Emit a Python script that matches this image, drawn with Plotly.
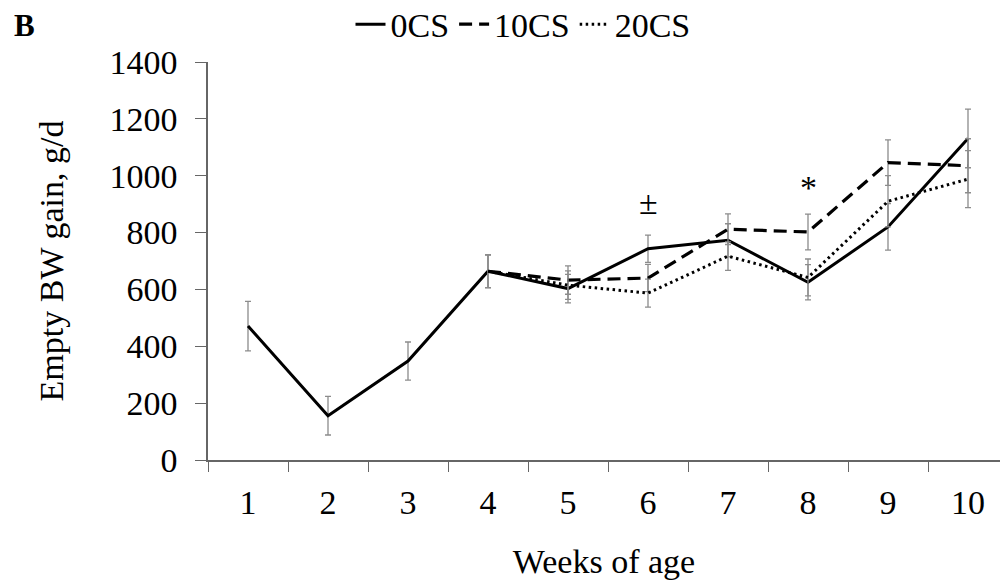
import plotly.graph_objects as go

weeks = [1, 2, 3, 4, 5, 6, 7, 8, 9, 10]
tick_labels = ["1", "2", "3", "4", "5", "6", "7", "8", "9", "10"]

cs0 = [471, 156, 348, 664, 603, 743, 773, 625, 820, 1131]
cs0_err = [87, 68, 67, 58, 50, 48, 58, 62, 82, 103]

cs10 = [None, None, None, 664, 633, 640, 812, 802, 1046, 1035]
cs10_err = [0, 0, 0, 58, 50, 48, 54, 63, 80, 95]

cs20 = [None, None, None, 664, 615, 587, 717, 642, 910, 988]
cs20_err = [0, 0, 0, 58, 50, 49, 50, 65, 90, 100]

sig_weeks = [6, 8]
sig_values = [905, 958]
sig_marks = ["±", "*"]

FONT = "Liberation Serif"
ERR_COLOR = "#8c8c8c"
FS = 34

fig = go.Figure()

series = [
    ("0CS", cs0, cs0_err, "solid", 3),
    ("10CS", cs10, cs10_err, "13px,7px", 3.2),
    ("20CS", cs20, cs20_err, "2.5px,3.5px", 3),
]
for name, vals, errs, dash, w in series:
    fig.add_trace(go.Scatter(
        x=weeks, y=vals, name=name, mode="lines",
        line=dict(color="black", width=w, dash=dash),
        error_y=dict(type="data", array=errs, visible=True,
                     color=ERR_COLOR, thickness=1.3, width=3),
        connectgaps=False,
    ))

for wk, v, m in zip(sig_weeks, sig_values, sig_marks):
    fig.add_annotation(x=wk, y=v, text=m, showarrow=False,
                       font=dict(family=FONT, size=FS, color="black"),
                       xanchor="center", yanchor="middle")

fig.add_annotation(x=-0.2475, y=1.14, xref="paper", yref="paper",
                   text="<b>B</b>", showarrow=False,
                   font=dict(family=FONT, size=31, color="black"),
                   xanchor="left", yanchor="top")

fig.update_layout(
    width=1000, height=584,
    margin=dict(l=208, r=0, t=62, b=124, autoexpand=False),
    paper_bgcolor="white", plot_bgcolor="white",
    font=dict(family=FONT, size=FS, color="black"),
    showlegend=True,
    legend=dict(orientation="h", x=0.523, xref="container", xanchor="center",
                y=0.958, yref="container", yanchor="middle",
                font=dict(family=FONT, size=FS, color="black"),
                itemwidth=30, tracegroupgap=0,
                bgcolor="rgba(0,0,0,0)"),
    xaxis=dict(
        range=[0.5, 10.4],
        tickmode="array", tickvals=weeks, ticktext=tick_labels,
        ticks="", showgrid=False, zeroline=False,
        showline=True, linecolor="#666666", linewidth=1.5,
        ticklabelstandoff=11,
        tickfont=dict(family=FONT, size=FS, color="black"),
        minor=dict(tickmode="array",
                   tickvals=[0.5, 1.5, 2.5, 3.5, 4.5, 5.5, 6.5, 7.5, 8.5, 9.5],
                   ticks="outside", ticklen=10, tickwidth=1.3,
                   tickcolor="#666666", showgrid=False),
        title=dict(text="Weeks of age", standoff=30,
                   font=dict(family=FONT, size=FS, color="black")),
    ),
    yaxis=dict(
        range=[0, 1400], tickmode="array",
        tickvals=[0, 200, 400, 600, 800, 1000, 1200, 1400],
        ticks="outside", ticklen=11, tickwidth=1.3, tickcolor="#666666",
        showgrid=False, zeroline=False,
        showline=True, linecolor="#666666", linewidth=1.5,
        ticklabelstandoff=11,
        tickfont=dict(family=FONT, size=FS, color="black"),
        title=dict(text="Empty BW gain, g/d", standoff=36,
                   font=dict(family=FONT, size=FS, color="black")),
    ),
)

fig.write_html("out.html")
